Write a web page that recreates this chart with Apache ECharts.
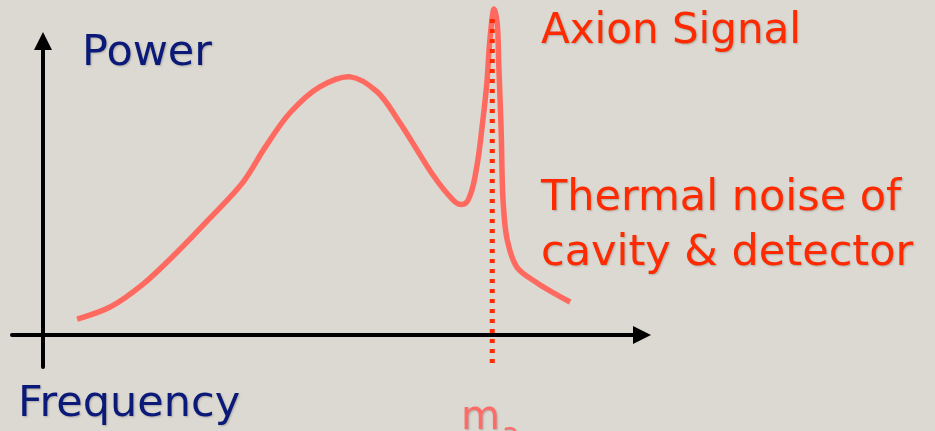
<!DOCTYPE html>
<html>
<head>
<meta charset="utf-8">
<script src="https://cdn.jsdelivr.net/npm/echarts@6/dist/echarts.min.js"></script>
<style>
  html, body { margin: 0; padding: 0; background: #dcd9d2; }
  #main { width: 935px; height: 431px; }
</style>
</head>
<body>
<div id="main"></div>
<script>
// schematic spectrum, frequency 0..100, power 0..100 (arbitrary units)
var freq = [5.7, 11.2, 16.7, 22.4, 27.9, 33.4, 37.1, 41.2, 46.2, 51.3, 55.8, 59.6, 65.1, 67.4, 69.3, 70.6,
            71.6, 72.6, 73.3, 74.1, 74.6, 75.3, 75.8, 76.1, 76.5, 76.8, 77.5, 79.1, 82.5, 88.0];
var power = [5.4, 9.5, 17.3, 28.2, 39.8, 52.0, 63.9, 75.5, 84.4, 87.8, 82.7, 72.1, 54.4, 48.3, 44.6, 44.9,
             49.3, 59.5, 70.7, 85.7, 100.3, 110.9, 106.5, 91.2, 68.7, 45.9, 32.3, 23.1, 17.7, 11.2];
var axionMass = 75.0;
var markerRange = [-9.5, 107.8];

var marker = markerRange.map(function(p){ return [axionMass, p]; });

// centripetal catmull-rom through the projected points -> bezier path
function smoothPath(pts){
	var d = 'M' + pts[0][0] + ',' + pts[0][1];
	function dist(a, b){ return Math.sqrt(Math.sqrt((a[0]-b[0])*(a[0]-b[0]) + (a[1]-b[1])*(a[1]-b[1]))) || 1e-6; }
	for (var i = 0; i < pts.length - 1; i++) {
		var p0 = pts[Math.max(i-1, 0)], p1 = pts[i], p2 = pts[i+1], p3 = pts[Math.min(i+2, pts.length-1)];
		var t1 = dist(p0, p1), t2 = dist(p1, p2), t3 = dist(p2, p3);
		var c1 = [], c2 = [];
		for (var k = 0; k < 2; k++) {
			c1[k] = (t1*t1*p2[k] - t2*t2*p0[k] + (2*t1*t1 + 3*t1*t2 + t2*t2)*p1[k]) / (3*t1*(t1+t2));
			c2[k] = (t3*t3*p1[k] - t2*t2*p3[k] + (2*t3*t3 + 3*t3*t2 + t2*t2)*p2[k]) / (3*t3*(t3+t2));
		}
		d += 'C' + c1[0] + ',' + c1[1] + ' ' + c2[0] + ',' + c2[1] + ' ' + p2[0] + ',' + p2[1];
	}
	return d;
}

var shadow = { textShadowColor: 'rgba(0,0,0,0.22)', textShadowBlur: 2, textShadowOffsetX: 1, textShadowOffsetY: 1 };
function label(x, y, text, size, color){
	return {
		type: 'text', x: x, y: y,
		style: Object.assign({ text: text, font: size + 'px "DejaVu Sans"', fill: color, verticalAlign: 'top' }, shadow)
	};
}

var chart = echarts.init(document.getElementById('main'));
chart.setOption({
	backgroundColor: '#dcd9d2',
	animation: false,
	grid: { left: 12, right: 293, top: 41, bottom: 64 },
	xAxis: {
		type: 'value', min: -5.18, max: 100,
		splitLine: { show: false }, axisTick: { show: false }, axisLabel: { show: false },
		axisLine: { onZero: true, lineStyle: { color: '#000', width: 4 }, symbol: ['none', 'triangle'], symbolSize: [18, 18] }
	},
	yAxis: {
		type: 'value', min: -10.9, max: 100,
		splitLine: { show: false }, axisTick: { show: false }, axisLabel: { show: false },
		axisLine: { onZero: true, lineStyle: { color: '#000', width: 4 }, symbol: ['none', 'triangle'], symbolSize: [18, 18] }
	},
	series: [
		{
			type: 'custom', z: 4, clip: false, silent: true,
			data: [0],
			renderItem: function(params, api){
				var pts = freq.map(function(f, i){ return api.coord([f, power[i]]); });
				return {
					type: 'path',
					shape: { pathData: smoothPath(pts) },
					style: { fill: 'none', stroke: '#ff6a60', lineWidth: 5.5, lineCap: 'butt', lineJoin: 'round' }
				};
			}
		},
		{
			// dotted m_a marker, drawn over the curve
			type: 'line', data: marker, clip: false, symbol: 'none', silent: true, z: 6,
			lineStyle: { color: '#ff2a00', width: 5, type: [4, 6], cap: 'butt' }
		}
	],
	graphic: [
		label(82, 32, 'Power', 43, '#0b1a78'),
		label(18, 383, 'Frequency', 43, '#0b1a78'),
		label(541, 11, 'Axion Signal', 42, '#ff2a00'),
		label(541, 177, 'Thermal noise of', 43, '#ff2a00'),
		label(541, 232, 'cavity & detector', 43, '#ff2a00'),
		label(461, 399, 'm', 40, '#ff6b66'),
		label(502, 422, 'a', 28, '#ff6b66')
	]
});
</script>
</body>
</html>
